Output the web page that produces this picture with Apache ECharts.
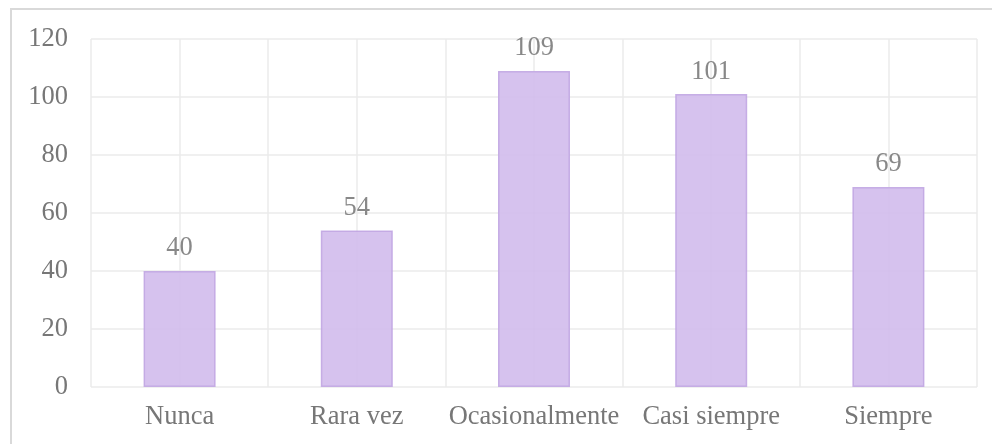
<!DOCTYPE html>
<html>
<head>
<meta charset="utf-8">
<script src="https://cdn.jsdelivr.net/npm/echarts@6/dist/echarts.min.js"></script>
<style>
  html, body { margin: 0; padding: 0; background: #fff; }
  #frame {
    position: absolute; left: 10px; top: 8px; width: 990px; height: 450px;
    border: 2px solid #d9d9d9; box-sizing: border-box;
  }
  #chart { position: absolute; left: 0; top: 0; width: 992px; height: 444px; }
</style>
</head>
<body>
<div id="frame"></div>
<div id="chart"></div>
<script>
  // datos
  const categorias = ['Nunca', 'Rara vez', 'Ocasionalmente', 'Casi siempre', 'Siempre'];
  const valores = [40, 54, 109, 101, 69];
  const yTicks = [0, 20, 40, 60, 80, 100, 120];

  const gris = '#777777';
  const fuente = '"Liberation Serif", "Times New Roman", serif';
  const tam = 26.5;

  let myChart = echarts.init(document.getElementById('chart'));
  let option = {
    backgroundColor: 'transparent',
    animation: false,
    grid: { left: 91, right: 15, top: 39, bottom: 57 },
    xAxis: [
      {
        type: 'category',
        data: categorias,
        axisLine: { show: false },
        axisTick: { show: false },
        splitLine: { show: false },
        axisLabel: { color: gris, fontSize: tam, fontFamily: fuente, margin: 17, interval: 0 }
      },
      {
        // lineas verticales cada media categoria
        type: 'value',
        min: 0,
        max: categorias.length * 2,
        interval: 1,
        position: 'bottom',
        axisLine: { show: false },
        axisTick: { show: false },
        axisLabel: { show: false },
        splitLine: { show: true, lineStyle: { color: '#ebebeb', width: 1.5 } }
      }
    ],
    yAxis: {
      type: 'value',
      min: yTicks[0],
      max: yTicks[yTicks.length - 1],
      interval: 20,
      axisLine: { show: false },
      axisTick: { show: false },
      splitLine: { lineStyle: { color: '#ebebeb', width: 1.5 } },
      axisLabel: { color: gris, fontSize: tam, fontFamily: fuente, margin: 23 }
    },
    series: [
      {
        type: 'bar',
        data: valores,
        xAxisIndex: 0,
        barWidth: 72,
        itemStyle: { color: '#D0BAEC', opacity: 0.88, borderColor: '#C0A5E2', borderWidth: 1.5 },
        label: {
          show: true,
          position: 'top',
          distance: 9,
          color: gris,
          fontSize: tam,
          fontFamily: fuente
        }
      }
    ]
  };
  myChart.setOption(option);
</script>
</body>
</html>
